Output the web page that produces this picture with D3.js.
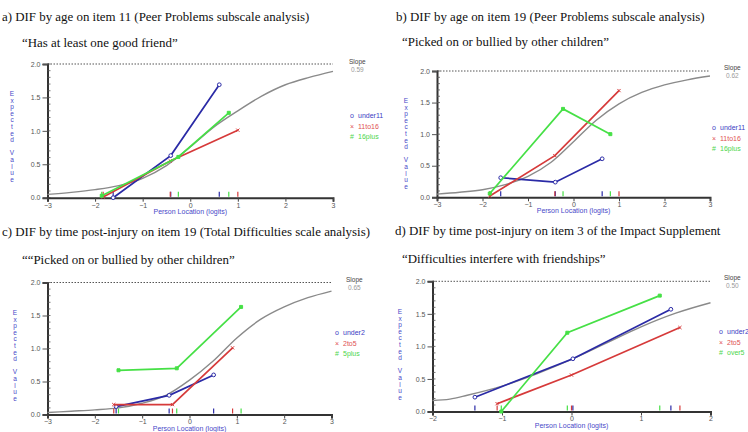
<!DOCTYPE html>
<html>
<head>
<meta charset="utf-8">
<script src="https://cdn.jsdelivr.net/npm/d3@7"></script>
<style>
  body { margin: 0; background: #fff; }
  svg { display: block; }
  .title { font-family: "Liberation Serif", "Times New Roman", serif; fill: #111; }
  .small { font-family: "Liberation Sans", Arial, sans-serif; font-size: 7px; }
</style>
</head>
<body>
<svg id="chart"></svg>
<script>
// ---- data ----
const panelTitles = [
  'a) DIF by age on item 11 (Peer Problems subscale analysis)',
  'b) DIF by age on item 19 (Peer Problems subscale analysis)',
  'c) DIF by time post-injury on item 19 (Total Difficulties scale analysis)',
  'd) DIF by time post-injury on item 3 of the Impact Supplement'
];
const itemLabels = [
  '\u201CHas at least one good friend\u201D',
  '\u201CPicked on or bullied by other children\u201D',
  '\u201C\u201CPicked on or bullied by other children\u201D',
  '\u201CDifficulties interfere with friendships\u201D'
];
const slopeValues = ['0.59', '0.62', '0.65', '0.50'];
const groupLabels = [
  ['under11', '11to16', '16plus'],
  ['under11', '11to16', '16plus'],
  ['under2', '2to5', '5plus'],
  ['under2', '2to5', 'over5']
];
const xTicks = [[-3, -2, -1, 0, 1, 2, 3], [-3, -2, -1, 0, 1, 2, 3], [-3, -2, -1, 0, 1, 2, 3], [-2, -1, 0, 1, 2]];
const yTicks = [0, 0.5, 1.0, 1.5, 2.0];

// expected value curves (grey), [location, value]
const curveA = [[-3, 0.05], [-2.5, 0.08], [-2, 0.12], [-1.5, 0.18], [-1, 0.29], [-0.5, 0.48], [0, 0.76], [0.5, 1.06], [1, 1.3], [1.5, 1.52], [2, 1.69], [2.5, 1.8], [3, 1.89]];
const curveB = [[-3, 0.05], [-2.5, 0.08], [-2, 0.12], [-1.5, 0.2], [-1, 0.33], [-0.5, 0.55], [0, 0.88], [0.5, 1.22], [1, 1.48], [1.5, 1.66], [2, 1.78], [2.5, 1.86], [3, 1.92]];
const curveC = [[-3, 0.03], [-2.5, 0.05], [-2, 0.07], [-1.5, 0.1], [-1, 0.17], [-0.5, 0.29], [0, 0.52], [0.5, 0.81], [1, 1.16], [1.5, 1.44], [2, 1.63], [2.5, 1.77], [3, 1.87]];
const curveD = [[-2, 0.17], [-1.75, 0.19], [-1.5, 0.25], [-1, 0.39], [-0.5, 0.58], [0, 0.8], [0.5, 1.05], [1, 1.3], [1.5, 1.51], [2, 1.67]];

// observed class-interval means, [location, value]
const aUnder11 = [[-1.62, 0.0], [-0.41, 0.63], [0.61, 1.69]];
const a11to16 = [[-1.83, 0.01], [-0.42, 0.55], [1.0, 1.01]];
const a16plus = [[-1.86, 0.03], [-0.25, 0.61], [0.81, 1.27]];

const bUnder11 = [[-1.6, 0.31], [-0.4, 0.24], [0.63, 0.61]];
const b11to16 = [[-1.84, 0.02], [-0.41, 0.66], [1.0, 1.69]];
const b16plus = [[-1.84, 0.06], [-0.23, 1.4], [0.81, 1.0]];

const cUnder2 = [[-1.55, 0.12], [-0.43, 0.29], [0.51, 0.6]];
const c2to5 = [[-1.6, 0.15], [-0.36, 0.15], [0.91, 1.01]];
const c5plus = [[-1.5, 0.67], [-0.27, 0.7], [1.09, 1.63]];

const dUnder2 = [[-1.39, 0.22], [0.02, 0.81], [1.43, 1.57]];
const d2to5 = [[-1.07, 0.12], [0.0, 0.56], [1.56, 1.29]];
const dOver5 = [[-1.01, 0.0], [-0.06, 1.21], [1.27, 1.78]];

const seriesColors = ['#2a2aa6', '#d63a3a', '#46e046'];
const legendColors = ['#3c3cc4', '#e05252', '#4cd64c'];
const legendGlyphs = ['o', '\u00D7', '#'];

class DifPlot {
  constructor(_config, _data) {
    this.config = _config;
    this.data = _data;
    this.initVis();
  }

  initVis() {
    let vis = this;
    const c = vis.config;

    vis.xScale = d3.scaleLinear().domain(c.xDomain).range(c.xRange);
    vis.yScale = d3.scaleLinear().domain([0, 2]).range(c.yRange);

    vis.g = d3.select('#chart').append('g');

    // titles
    vis.g.append('text').attr('class', 'title')
      .attr('x', c.titleX).attr('y', c.titleY)
      .style('font-size', '12.9px')
      .text(vis.data.title);
    vis.g.append('text').attr('class', 'title')
      .attr('x', c.subX).attr('y', c.subY)
      .style('font-size', '12.9px')
      .text(vis.data.item);

    vis.renderVis();
  }

  renderVis() {
    let vis = this;
    const c = vis.config;
    const x = vis.xScale, y = vis.yScale;
    const x0 = c.xRange[0], x1 = c.xRange[1];

    // dotted max line
    vis.g.append('line')
      .attr('x1', x0).attr('x2', x1)
      .attr('y1', y(2)).attr('y2', y(2))
      .attr('stroke', '#555').attr('stroke-width', 1)
      .attr('stroke-dasharray', '1.5,1.5');

    // y axis with minor ticks
    const yAxis = d3.axisLeft(y).tickValues(yTicks).tickSize(5).tickPadding(2)
      .tickFormat(d3.format('.1f'));
    vis.g.append('g')
      .attr('transform', `translate(${x0},0)`)
      .call(yAxis)
      .call(g => g.select('.domain').attr('stroke', '#333').attr('stroke-width', 2))
      .call(g => g.selectAll('.tick line').attr('stroke', '#555'))
      .call(g => g.selectAll('.tick text').attr('class', 'small').attr('fill', '#555').style('font-size', '7px'));
    vis.g.append('g')
      .selectAll('line')
      .data(d3.range(0, 2.001, 0.1))
      .join('line')
      .attr('x1', x0).attr('x2', x0 + 3)
      .attr('y1', d => y(d)).attr('y2', d => y(d))
      .attr('stroke', '#555').attr('stroke-width', 0.8);

    // x axis
    const xAxis = d3.axisBottom(x).tickValues(c.xTicks).tickSize(4).tickPadding(1)
      .tickFormat(d3.format('d'));
    vis.g.append('g')
      .attr('transform', `translate(0,${y(0)})`)
      .call(xAxis)
      .call(g => g.select('.domain').attr('stroke', '#333').attr('stroke-width', 2))
      .call(g => g.selectAll('.tick line').attr('stroke', '#444'))
      .call(g => g.selectAll('.tick text').attr('class', 'small').attr('fill', '#555').style('font-size', '7px'));

    // axis titles
    vis.g.append('text').attr('class', 'small')
      .attr('x', (x0 + x1) / 2).attr('y', y(0) + 16)
      .attr('text-anchor', 'middle').attr('fill', '#4848c8')
      .text('Person Location (logits)');
    const letters = 'Expected Value'.split('');
    vis.g.append('g').selectAll('text')
      .data(letters)
      .join('text').attr('class', 'small')
      .attr('x', c.ylabX).attr('y', (d, i) => c.ylabY + i * 6.6)
      .attr('text-anchor', 'middle').attr('fill', '#4848c8')
      .style('font-size', '6.5px')
      .text(d => d);

    // expected value curve
    const line = d3.line().x(d => x(d[0])).y(d => y(d[1]));
    vis.g.append('path')
      .datum(vis.data.curve)
      .attr('d', line.curve(d3.curveMonotoneX))
      .attr('fill', 'none').attr('stroke', '#8a8a8a').attr('stroke-width', 1.4);

    // location ticks at the bottom
    vis.data.series.forEach((s, i) => {
      vis.g.append('g').selectAll('line')
        .data(s)
        .join('line')
        .attr('x1', d => x(d[0])).attr('x2', d => x(d[0]))
        .attr('y1', y(0) - 1).attr('y2', y(0) - 6)
        .attr('stroke', seriesColors[i]).attr('stroke-width', 1.2);
    });

    // observed means
    const straight = d3.line().x(d => x(d[0])).y(d => y(d[1]));
    const symbols = [d3.symbolCircle, d3.symbolTimes, d3.symbolSquare];
    const sizes = [11, 8, 9];
    vis.data.series.forEach((s, i) => {
      vis.g.append('path')
        .datum(s)
        .attr('d', straight)
        .attr('fill', 'none').attr('stroke', seriesColors[i]).attr('stroke-width', 1.7);
      vis.g.append('g').selectAll('path')
        .data(s)
        .join('path')
        .attr('transform', d => `translate(${x(d[0])},${y(d[1])})`)
        .attr('d', d3.symbol(symbols[i], sizes[i]))
        .attr('fill', i === 2 ? seriesColors[i] : (i === 0 ? '#fff' : 'none'))
        .attr('stroke', seriesColors[i]).attr('stroke-width', 1);
    });

    // legend
    const leg = vis.g.append('g');
    vis.data.groups.forEach((name, i) => {
      leg.append('text').attr('class', 'small')
        .attr('x', c.legX).attr('y', c.legY + i * 10.5)
        .attr('fill', legendColors[i]).style('font-size', '7px')
        .attr('text-anchor', 'middle')
        .text(legendGlyphs[i]);
      leg.append('text').attr('class', 'small')
        .attr('x', c.legX + 6).attr('y', c.legY + i * 10.5)
        .attr('fill', legendColors[i]).style('font-size', '7px')
        .text(name);
    });

    // slope
    vis.g.append('text').attr('class', 'small')
      .attr('x', c.slopeX).attr('y', c.slopeY)
      .attr('fill', '#444').style('font-size', '6.5px')
      .text('Slope');
    vis.g.append('text').attr('class', 'small')
      .attr('x', c.slopeX + 2).attr('y', c.slopeY + 8)
      .attr('fill', '#999').style('font-size', '6.5px')
      .text(slopeValues[vis.data.index]);
  }
}

d3.select('#chart').attr('width', 748).attr('height', 432);

const layouts = [
  {xRange: [47.5, 333], yRange: [197.7, 64], titleX: 2, titleY: 21, subX: 22, subY: 47,
   legX: 352, legY: 118, slopeX: 349, slopeY: 64, ylabX: 12, ylabY: 96},
  {xRange: [437, 710], yRange: [197.3, 71], titleX: 396, titleY: 21, subX: 402, subY: 46,
   legX: 714, legY: 130, slopeX: 724, slopeY: 70, ylabX: 406, ylabY: 103},
  {xRange: [47.5, 331.5], yRange: [414.5, 282.5], titleX: 2, titleY: 236, subX: 22, subY: 264,
   legX: 337, legY: 335, slopeX: 346, slopeY: 282, ylabX: 15, ylabY: 315},
  {xRange: [432.5, 710.5], yRange: [411.5, 281.3], titleX: 395, titleY: 235, subX: 402, subY: 263,
   legX: 721, legY: 334, slopeX: 724, slopeY: 280, ylabX: 400, ylabY: 314}
];
const curves = [curveA, curveB, curveC, curveD];
const seriesSets = [
  [aUnder11, a11to16, a16plus],
  [bUnder11, b11to16, b16plus],
  [cUnder2, c2to5, c5plus],
  [dUnder2, d2to5, dOver5]
];

layouts.forEach((l, i) => {
  new DifPlot(
    Object.assign({xDomain: d3.extent(xTicks[i]), xTicks: xTicks[i]}, l),
    {index: i, title: panelTitles[i], item: itemLabels[i], groups: groupLabels[i],
     curve: curves[i], series: seriesSets[i]}
  );
});
</script>
</body>
</html>
